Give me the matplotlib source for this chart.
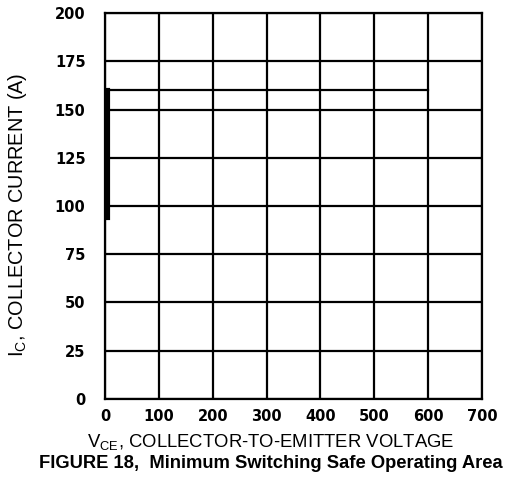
import matplotlib
matplotlib.use("Agg")
import matplotlib.pyplot as plt

x_ticks = [0, 100, 200, 300, 400, 500, 600, 700]
y_ticks = [0, 25, 50, 75, 100, 125, 150, 175, 200]
soa_v = [0, 600]
soa_i = [160, 160]
edge_v = [5, 5]
edge_i = [94, 160]

fig = plt.figure(figsize=(5.26, 4.83), dpi=100)
ax = fig.add_axes([0.1996, 0.174, 0.7168, 0.799])
ax.set_xlim(0, 700)
ax.set_ylim(0, 200)
ax.set_xticks(x_ticks)
ax.set_yticks(y_ticks)
ax.set_xticklabels([str(v) for v in x_ticks], fontsize=10.5, fontweight='heavy', family='DejaVu Sans')
ax.set_yticklabels([str(v) for v in y_ticks], fontsize=10.5, fontweight='heavy', family='DejaVu Sans')
ax.tick_params(axis='x', length=0, pad=7)
ax.tick_params(axis='y', length=0, pad=14)
ax.grid(True, color='black', linewidth=1.6)
for s in ax.spines.values():
    s.set_linewidth(1.6)
ax.plot(soa_v, soa_i, color='black', linewidth=1.6)
ax.plot(edge_v, edge_i, color='black', linewidth=3)

fig.text(0.5152, 1 - 442 / 483, r'V$_{\mathregular{CE}}$, COLLECTOR-TO-EMITTER VOLTAGE', ha='center', va='center',
         fontsize=13.3, family='Liberation Sans')
fig.text(18 / 526, 1 - 215 / 483, r'I$_{\mathregular{C}}$, COLLECTOR CURRENT (A)', ha='center', va='center',
         rotation=90, fontsize=14.3, family='Liberation Sans')
fig.text(0.5152, 1 - 464 / 483, 'FIGURE 18,  Minimum Switching Safe Operating Area', ha='center', va='center',
         fontsize=13.2, fontweight='bold', family='Liberation Sans')
fig.savefig('out.png', dpi=100)
